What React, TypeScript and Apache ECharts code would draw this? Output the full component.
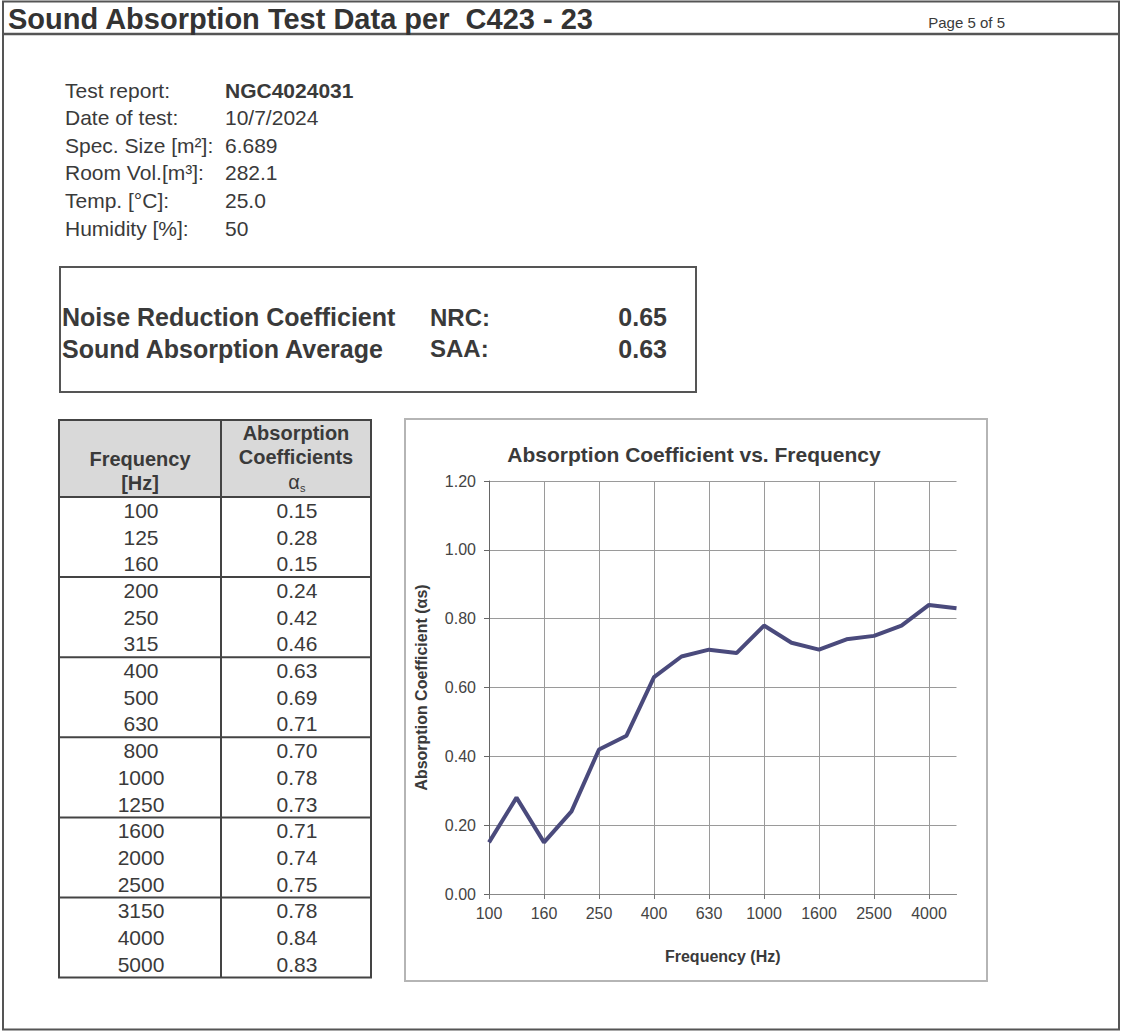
import React, { useEffect, useRef } from "react";
import * as echarts from "echarts";

// ---------- data ----------
const frequencies = ["100", "125", "160", "200", "250", "315", "400", "500", "630", "800", "1000", "1250", "1600", "2000", "2500", "3150", "4000", "5000"];
const absorption = [0.15, 0.28, 0.15, 0.24, 0.42, 0.46, 0.63, 0.69, 0.71, 0.70, 0.78, 0.73, 0.71, 0.74, 0.75, 0.78, 0.84, 0.83];
const yMin = 0;
const yMax = 1.2;
const yStep = 0.2;

const infoLabels = ["Test report:", "Date of test:", "Spec. Size [m²]:", "Room Vol.[m³]:", "Temp. [°C]:", "Humidity [%]:"];
const infoValues = ["NGC4024031", "10/7/2024", "6.689", "282.1", "25.0", "50"];

const ratingNames = ["Noise Reduction Coefficient", "Sound Absorption Average"];
const ratingCodes = ["NRC:", "SAA:"];
const ratingValues = ["0.65", "0.63"];

const pageTitle = "Sound Absorption Test Data per  C423 - 23";
const pageNumber = "Page 5 of 5";
const chartTitle = "Absorption Coefficient vs. Frequency";
const xName = "Frequency (Hz)";
const yName = "Absorption Coefficient (αs)";

const FONT = '"Liberation Sans", Arial, Helvetica, sans-serif';
const INK = "#3a3a3a";

function txt(x: number, y: number, text: string, size: number, opts: any = {}) {
  return {
    type: "text",
    x,
    y,
    silent: true,
    style: {
      text,
      fontSize: size,
      fontFamily: FONT,
      fontWeight: opts.bold ? "bold" : "normal",
      fill: opts.fill || INK,
      align: opts.align || "left",
      verticalAlign: "middle",
    },
  };
}

function line(x1: number, y1: number, x2: number, y2: number, w: number, c: string) {
  return { type: "line", silent: true, shape: { x1, y1, x2, y2 }, style: { stroke: c, lineWidth: w } };
}

function buildGraphics() {
  const g: any[] = [];
  // page frame
  g.push({ type: "rect", silent: true, shape: { x: 3, y: 1.5, width: 1116, height: 1028 }, style: { fill: "none", stroke: "#555", lineWidth: 2 } });
  g.push(line(3, 34, 1119, 34, 2.5, "#555"));
  g.push(txt(8, 19, pageTitle, 29, { bold: true, fill: "#333" }));
  g.push(txt(1005, 22, pageNumber, 15, { align: "right" }));

  // info block
  const infoTop = 90;
  const infoStep = 27.6;
  infoLabels.forEach((l, i) => {
    g.push(txt(65, infoTop + i * infoStep, l, 21));
    g.push(txt(225, infoTop + i * infoStep, infoValues[i], 21, { bold: i === 0 }));
  });

  // rating box
  g.push({ type: "rect", silent: true, shape: { x: 60, y: 267, width: 636, height: 125 }, style: { fill: "none", stroke: "#555", lineWidth: 2 } });
  const rTop = 317;
  const rStep = 31.5;
  ratingNames.forEach((n, i) => {
    g.push(txt(62, rTop + i * rStep, n, 25, { bold: true }));
    g.push(txt(430, rTop + i * rStep, ratingCodes[i], 24, { bold: true }));
    g.push(txt(667, rTop + i * rStep, ratingValues[i], 25, { bold: true, align: "right" }));
  });

  // table
  const tx = 59, tw = 312, colX = 221, tTop = 420, hBot = 497, rowH = 26.7;
  const tBot = hBot + frequencies.length * rowH;
  g.push({ type: "rect", silent: true, shape: { x: tx, y: tTop, width: tw, height: hBot - tTop }, style: { fill: "#d9d9d9" } });
  g.push(txt(140, 459, "Frequency", 20, { bold: true, align: "center" }));
  g.push(txt(140, 483, "[Hz]", 20, { bold: true, align: "center" }));
  g.push(txt(296, 433, "Absorption", 20, { bold: true, align: "center" }));
  g.push(txt(296, 457, "Coefficients", 20, { bold: true, align: "center" }));
  g.push(txt(294, 482, "α", 20, { align: "center" }));
  g.push(txt(300, 488, "s", 11, { align: "left" }));
  frequencies.forEach((f, i) => {
    const cy = hBot + rowH * (i + 0.5);
    g.push(txt(141, cy, f, 21, { align: "center" }));
    g.push(txt(297, cy, absorption[i].toFixed(2), 21, { align: "center" }));
  });
  for (let k = 3; k < frequencies.length; k += 3) {
    g.push(line(tx, hBot + k * rowH, tx + tw, hBot + k * rowH, 2, "#444"));
  }
  g.push(line(tx, hBot, tx + tw, hBot, 2, "#444"));
  g.push(line(colX, tTop, colX, tBot, 2, "#444"));
  g.push({ type: "rect", silent: true, shape: { x: tx, y: tTop, width: tw, height: tBot - tTop }, style: { fill: "none", stroke: "#444", lineWidth: 2 } });

  // chart panel
  g.push({ type: "rect", silent: true, shape: { x: 405, y: 419, width: 582, height: 562 }, style: { fill: "none", stroke: "#b5b5b5", lineWidth: 2 } });
  g.push(txt(694, 454, chartTitle, 21, { bold: true, align: "center" }));
  return g;
}

export default function App() {
  const ref = useRef<HTMLDivElement>(null);
  useEffect(() => {
    if (!ref.current) return;
    const chart = echarts.init(ref.current, null, { renderer: "svg" });
    chart.setOption({
      animation: false,
      backgroundColor: "#ffffff",
      textStyle: { fontFamily: FONT },
      grid: { left: 489, right: 165.5, top: 481, bottom: 141, containLabel: false },
      xAxis: {
        type: "category",
        data: frequencies,
        boundaryGap: false,
        name: xName,
        nameLocation: "middle",
        nameGap: 54,
        nameTextStyle: { fontSize: 16, fontWeight: "bold", color: INK, fontFamily: FONT },
        axisLine: { show: true, lineStyle: { color: "#888", width: 1 } },
        axisTick: { show: true, interval: 1, length: 5, lineStyle: { color: "#777" } },
        axisLabel: { interval: 1, fontSize: 16, color: "#444", margin: 11, fontFamily: FONT },
        splitLine: { show: true, interval: 1, lineStyle: { color: "#9a9a9a", width: 1 } },
      },
      yAxis: {
        type: "value",
        min: yMin,
        max: yMax,
        interval: yStep,
        name: yName,
        nameLocation: "middle",
        nameGap: 60,
        nameTextStyle: { fontSize: 16, fontWeight: "bold", color: INK, fontFamily: FONT },
        axisLine: { show: true, lineStyle: { color: "#666", width: 1 } },
        axisTick: { show: true, length: 5, lineStyle: { color: "#666" } },
        axisLabel: { fontSize: 16, color: "#444", margin: 13, fontFamily: FONT, formatter: (v: number) => v.toFixed(2) },
        splitLine: { show: true, lineStyle: { color: "#9a9a9a", width: 1 } },
      },
      series: [
        {
          type: "line",
          data: absorption,
          symbol: "none",
          lineStyle: { color: "#4a4a7c", width: 4 },
          z: 5,
        },
      ],
      graphic: { elements: buildGraphics() },
    });
    return () => chart.dispose();
  }, []);
  return <div ref={ref} style={{ position: "absolute", left: 0, top: 0, width: 1122, height: 1035, background: "#fff" }} />;
}
